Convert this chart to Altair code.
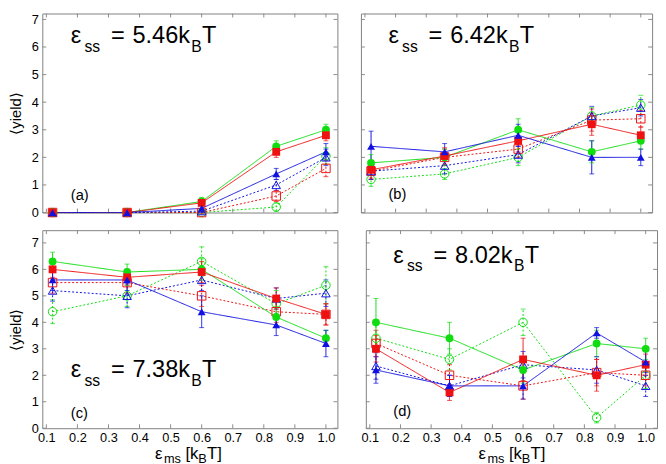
import altair as alt
import pandas as pd

# ---------------- data ----------------
X = [0.12, 0.36, 0.6, 0.84, 1.0]
X_TICKS = [0.1, 0.2, 0.3, 0.4, 0.5, 0.6, 0.7, 0.8, 0.9, 1.0]
Y_TICKS = [0, 1, 2, 3, 4, 5, 6, 7]

PANEL_IDS = ["a", "b", "c", "d"]
EPS_SS = ["5.46", "6.42", "7.38", "8.02"]
PANEL_LABELS = ["(a)", "(b)", "(c)", "(d)"]

# panel (a)  eps_ss = 5.46
A_GF = [0, 0, 0.40, 2.40, 3.00]
A_RF = [0, 0, 0.35, 2.20, 2.80]
A_BF = [0, 0, 0.15, 1.40, 2.20]
A_GO = [0, 0, 0.00, 0.20, 2.05]
A_RO = [0, 0, 0.00, 0.60, 1.60]
A_BO = [0, 0, 0.05, 1.00, 2.00]
A_GF_E = [0, 0, 0.15, 0.20, 0.20]
A_RF_E = [0, 0, 0.10, 0.20, 0.20]
A_BF_E = [0, 0, 0.10, 0.20, 0.30]
A_GO_E = [0, 0, 0.05, 0.15, 0.30]
A_RO_E = [0, 0, 0.05, 0.20, 0.30]
A_BO_E = [0, 0, 0.05, 0.20, 0.30]

# panel (b)  eps_ss = 6.42
B_GF = [1.80, 2.00, 3.00, 2.20, 2.60]
B_RF = [1.55, 2.05, 2.60, 3.20, 2.80]
B_BF = [2.40, 2.20, 2.80, 2.00, 2.00]
B_GO = [1.20, 1.40, 2.00, 3.50, 3.90]
B_RO = [1.50, 2.00, 2.30, 3.35, 3.40]
B_BO = [1.50, 1.70, 2.10, 3.50, 3.80]
B_GF_E = [0.30, 0.30, 0.40, 0.40, 0.30]
B_RF_E = [0.30, 0.30, 0.40, 0.40, 0.30]
B_BF_E = [0.55, 0.30, 0.40, 0.60, 0.30]
B_GO_E = [0.25, 0.20, 0.30, 0.30, 0.35]
B_RO_E = [0.30, 0.30, 0.30, 0.40, 0.30]
B_BO_E = [0.30, 0.30, 0.30, 0.35, 0.30]

# panel (c)  eps_ss = 7.38
C_GF = [6.30, 5.90, 6.00, 4.20, 3.40]
C_RF = [6.00, 5.70, 5.90, 4.90, 4.30]
C_BF = [5.60, 5.60, 4.40, 3.90, 3.20]
C_GO = [4.40, 5.00, 6.30, 4.70, 5.40]
C_RO = [5.50, 5.50, 5.00, 4.40, 4.30]
C_BO = [5.20, 5.00, 5.60, 4.90, 5.10]
C_GF_E = [0.35, 0.30, 0.40, 0.40, 0.30]
C_RF_E = [0.30, 0.30, 0.40, 0.40, 0.40]
C_BF_E = [0.40, 0.40, 0.60, 0.40, 0.50]
C_GO_E = [0.45, 0.40, 0.55, 0.50, 0.70]
C_RO_E = [0.40, 0.40, 0.40, 0.40, 0.40]
C_BO_E = [0.40, 0.45, 0.40, 0.40, 0.50]

# panel (d)  eps_ss = 8.02
D_GF = [4.00, 3.40, 2.20, 3.20, 3.00]
D_RF = [3.00, 1.35, 2.60, 2.00, 2.40]
D_BF = [2.20, 1.60, 1.60, 3.60, 2.50]
D_GO = [3.40, 2.60, 4.00, 0.40, 2.00]
D_RO = [3.20, 2.00, 1.60, 2.10, 2.00]
D_BO = [2.35, 1.60, 2.40, 2.20, 1.60]
D_GF_E = [0.90, 0.60, 0.50, 0.50, 0.40]
D_RF_E = [0.50, 0.30, 0.80, 0.60, 0.40]
D_BF_E = [0.50, 0.40, 0.50, 0.20, 0.40]
D_GO_E = [0.50, 0.40, 0.50, 0.20, 0.50]
D_RO_E = [0.50, 0.40, 0.50, 0.50, 0.40]
D_BO_E = [0.50, 0.40, 0.50, 0.50, 0.40]

SERIES = [  # key, colour group, style  (open first so filled draw on top)
    ("go", "g", "open"), ("ro", "r", "open"), ("bo", "b", "open"),
    ("gf", "g", "filled"), ("rf", "r", "filled"), ("bf", "b", "filled"),
]
PANEL_VALUES = {
    "a": {"gf": (A_GF, A_GF_E), "rf": (A_RF, A_RF_E), "bf": (A_BF, A_BF_E),
          "go": (A_GO, A_GO_E), "ro": (A_RO, A_RO_E), "bo": (A_BO, A_BO_E)},
    "b": {"gf": (B_GF, B_GF_E), "rf": (B_RF, B_RF_E), "bf": (B_BF, B_BF_E),
          "go": (B_GO, B_GO_E), "ro": (B_RO, B_RO_E), "bo": (B_BO, B_BO_E)},
    "c": {"gf": (C_GF, C_GF_E), "rf": (C_RF, C_RF_E), "bf": (C_BF, C_BF_E),
          "go": (C_GO, C_GO_E), "ro": (C_RO, C_RO_E), "bo": (C_BO, C_BO_E)},
    "d": {"gf": (D_GF, D_GF_E), "rf": (D_RF, D_RF_E), "bf": (D_BF, D_BF_E),
          "go": (D_GO, D_GO_E), "ro": (D_RO, D_RO_E), "bo": (D_BO, D_BO_E)},
}

rows = []
for pid in PANEL_IDS:
    for key, grp, style in SERIES:
        ys, es = PANEL_VALUES[pid][key]
        for xv, yv, ev in zip(X, ys, es):
            rows.append({"panel": pid, "key": key, "grp": grp, "style": style,
                         "x": xv, "y": yv, "lo": yv - ev, "hi": yv + ev})
df = pd.DataFrame(rows)
xt_df = pd.DataFrame({"x": X_TICKS})
yt_df = pd.DataFrame({"y": Y_TICKS})

# ---------------- style ----------------
FONT = "Liberation Sans"
GRAY = "#8a8a8a"
COLOR_SCALE = alt.Scale(domain=["g", "r", "b"], range=["#10dd10", "#ee1111", "#1010e0"])
SHAPE_SCALE = alt.Scale(domain=["g", "r", "b"], range=["circle", "square", "triangle-up"])
DASH_SCALE = alt.Scale(domain=["filled", "open"], range=[[1, 0], [2, 2]])
X_DOMAIN = [0.087, 1.037]


def text_piece(txt, px, py, size):
    return alt.Chart(pd.DataFrame({"t": [txt]})).mark_text(
        align="left", baseline="alphabetic", font=FONT, fontSize=size, color="black"
    ).encode(x=alt.value(px), y=alt.value(py), text="t:N")


def eps_title(val, tx, ty):
    big, small, drop = 24, 16, 9
    return [
        text_piece("ε", tx, ty, big),
        text_piece("ss", tx + 14, ty + drop, small),
        text_piece("=", tx + 41, ty, big),
        text_piece(val + "k", tx + 63, ty, big),
        text_piece("B", tx + 123, ty + drop, small),
        text_piece("T", tx + 134, ty, big),
    ]


def x_title(h):
    big, small, drop = 17, 13, 4
    ty = h + 31
    return [
        text_piece("ε", 115, ty, big),
        text_piece("ms", 124, ty + drop, small),
        text_piece("[k", 146, ty, big),
        text_piece("B", 159, ty + drop, small),
        text_piece("T]", 168, ty, big),
    ]


def panel(i, w, h, ymax, show_x, show_y, tpos, lpos):
    pid = PANEL_IDS[i]
    data = df[df.panel == pid]
    xaxis = alt.Axis(values=X_TICKS, format=".1f", labelPadding=4, title=None,
                     labelFlush=False, labelOverlap=False) if show_x else None
    yaxis = alt.Axis(values=Y_TICKS, labelPadding=4, title="⟨yield⟩", titleFontSize=15,
                     titleFont=FONT, titleFontWeight="normal", titlePadding=8,
                     titleColor="black", labelFlush=False, labelOverlap=False) if show_y else None
    xs = alt.Scale(domain=X_DOMAIN, nice=False, zero=False)
    ys = alt.Scale(domain=[0, ymax], nice=False, zero=False)
    X_ = alt.X("x:Q", scale=xs, axis=xaxis)
    Y_ = alt.Y("y:Q", scale=ys, axis=yaxis)
    LO_ = alt.Y("lo:Q", scale=ys, axis=yaxis)
    HI_ = alt.Y("hi:Q", scale=ys, axis=yaxis)
    color = alt.Color("grp:N", scale=COLOR_SCALE, legend=None)
    dash = alt.StrokeDash("style:N", scale=DASH_SCALE, legend=None)
    shape = alt.Shape("grp:N", scale=SHAPE_SCALE, legend=None)
    base = alt.Chart(data)

    lines = base.mark_line(strokeWidth=1).encode(x=X_, y=Y_, color=color, strokeDash=dash,
                                                detail="key:N", order="x:Q")
    err = base.mark_rule(strokeWidth=1).encode(x=X_, y=LO_, y2="hi:Q", color=color, strokeDash=dash)
    cap_lo = base.mark_tick(thickness=1, size=5, orient="horizontal").encode(x=X_, y=LO_, color=color)
    cap_hi = base.mark_tick(thickness=1, size=5, orient="horizontal").encode(x=X_, y=HI_, color=color)
    pts_open = base.transform_filter(alt.datum.style == "open").mark_point(
        filled=False, size=75, strokeWidth=1, opacity=1).encode(x=X_, y=Y_, color=color, shape=shape)
    pts_fill = base.transform_filter(alt.datum.style == "filled").mark_point(
        filled=True, size=64, opacity=1).encode(x=X_, y=Y_, color=color, shape=shape)

    # inward tick marks on all four sides
    xt = alt.Chart(xt_df)
    yt = alt.Chart(yt_df)
    XT_ = alt.X("x:Q", scale=xs, axis=xaxis)
    YT_ = alt.Y("y:Q", scale=ys, axis=yaxis)
    ticks = [
        xt.mark_rule(color=GRAY, strokeWidth=1).encode(x=XT_, y=alt.value(0), y2=alt.value(4)),
        xt.mark_rule(color=GRAY, strokeWidth=1).encode(x=XT_, y=alt.value(h - 4), y2=alt.value(h)),
        yt.mark_rule(color=GRAY, strokeWidth=1).encode(y=YT_, x=alt.value(0), x2=alt.value(4)),
        yt.mark_rule(color=GRAY, strokeWidth=1).encode(y=YT_, x=alt.value(w - 4), x2=alt.value(w)),
    ]

    title = eps_title(EPS_SS[i], tpos[0], tpos[1])
    label = [text_piece(PANEL_LABELS[i], lpos[0], lpos[1], 15)]
    extra = x_title(h) if show_x else []
    return alt.layer(*ticks, lines, err, cap_lo, cap_hi, pts_open, pts_fill,
                     *title, *label, *extra).properties(width=w, height=h)


pa = panel(0, 301, 203, 7.214, False, True, (29, 30), (29, 190))
pb = panel(1, 297, 203, 7.214, False, False, (28, 30), (28, 189))
pc = panel(2, 301, 202, 7.48, True, True, (29, 150), (29, 192))
pd_ = panel(3, 297, 202, 7.48, True, False, (28, 33), (28, 190))

chart = alt.vconcat(
    alt.hconcat(pa, pb, spacing=22),
    alt.hconcat(pc, pd_, spacing=22),
    spacing=9,
).properties(padding=0).configure_view(stroke="#808080", strokeWidth=1).configure_axis(
    grid=False, domain=False, ticks=False, labelFont=FONT, labelFontSize=13, labelColor="black"
)

chart.save("out.html", embed_options={"renderer": "svg", "actions": False})
